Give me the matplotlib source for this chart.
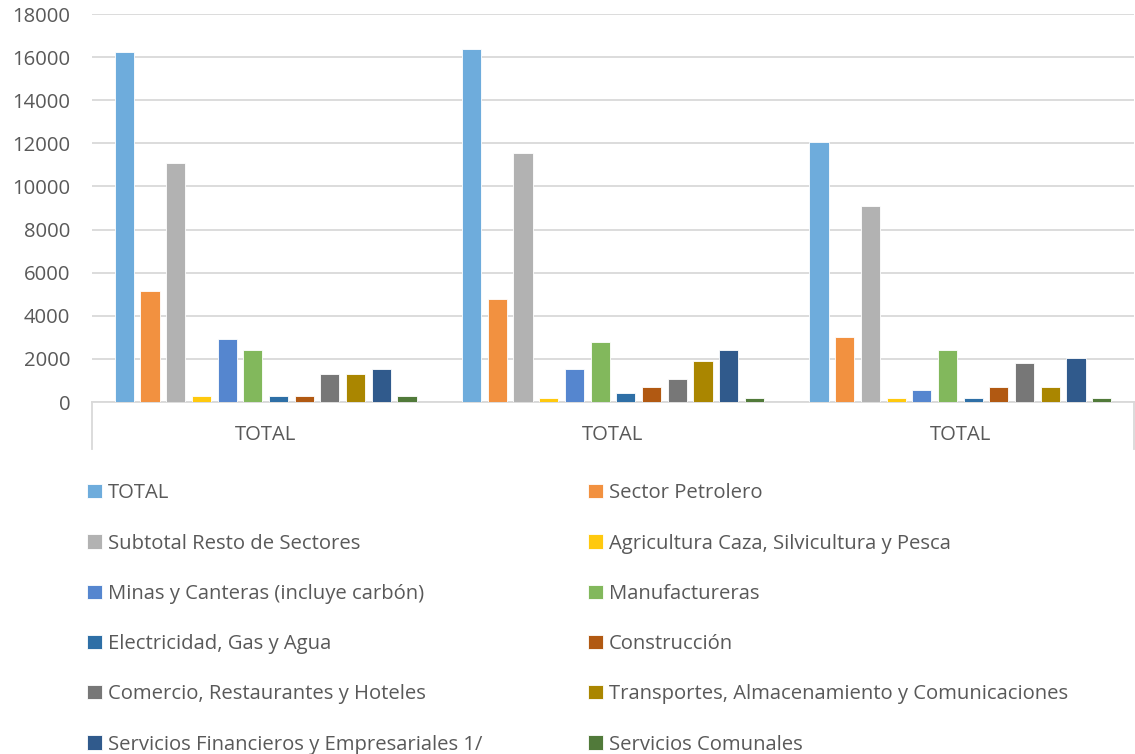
import matplotlib
matplotlib.use("Agg")
import matplotlib.pyplot as plt
import numpy as np

categories = ["TOTAL", "TOTAL", "TOTAL"]

series_names = [
    "TOTAL",
    "Sector Petrolero",
    "Subtotal Resto de Sectores",
    "Agricultura Caza, Silvicultura y Pesca",
    "Minas y Canteras (incluye carbón)",
    "Manufactureras",
    "Electricidad, Gas y Agua",
    "Construcción",
    "Comercio, Restaurantes y Hoteles",
    "Transportes, Almacenamiento y Comunicaciones",
    "Servicios Financieros y Empresariales 1/",
    "Servicios Comunales",
]

# one list per category group, in series order
group1 = [16250, 5150, 11070, 300, 2900, 2420, 300, 300, 1300, 1300, 1550, 300]
group2 = [16390, 4760, 11560, 190, 1550, 2780, 440, 690, 1050, 1920, 2420, 190]
group3 = [12050, 3030, 9090, 190, 570, 2420, 190, 690, 1790, 690, 2050, 190]

colors = [
    "#6eacdc", "#f29140", "#b2b2b2", "#ffc90e", "#5586cf", "#82b85c",
    "#2e6fa6", "#b15912", "#777777", "#aa8600", "#305a8c", "#517a3a",
]

yticks = [0, 2000, 4000, 6000, 8000, 10000, 12000, 14000, 16000, 18000]

W, H = 1135, 754
fig = plt.figure(figsize=(W / 100, H / 100), dpi=100)
plt.rcParams["font.family"] = ["Open Sans", "DejaVu Sans"]
FS = 14.6
TXT = "#595959"

ax = fig.add_axes([92 / W, 1 - 402 / H, (1134 - 92) / W, (402 - 14) / H])

values = np.array([group1, group2, group3])
n = len(series_names)
slot = 0.074
width = 0.055
x = np.arange(len(categories))
handles = []
for i in range(n):
    offs = (i - (n - 1) / 2) * slot
    b = ax.bar(x + offs, values[:, i], width=width, color=colors[i],
               edgecolor="white", linewidth=0.6, label=series_names[i], zorder=3)
    handles.append(b)

ax.set_xlim(-0.5, 2.5)
ax.set_ylim(0, 18000)
ax.set_yticks(yticks)
ax.set_yticklabels([str(t) for t in yticks])
ax.grid(axis="y", color="#d9d9d9", linewidth=1.3, zorder=0)
ax.set_axisbelow(True)
for s in ["left", "right", "top"]:
    ax.spines[s].set_visible(False)
ax.spines["bottom"].set_color("#d9d9d9")
ax.spines["bottom"].set_linewidth(1.3)
ax.tick_params(axis="y", length=0, pad=15.5, labelsize=FS, labelcolor=TXT)
ax.tick_params(axis="x", length=0, pad=0)
ax.set_xticks([])

# category labels and outer separators below the axis
for xi, lab in zip(x, categories):
    ax.text(xi, -1550, lab, ha="center", va="center", fontsize=FS,
            color=TXT, transform=ax.transData, clip_on=False)
for xs in (-0.5, 2.5):
    ax.plot([xs, xs], [0, -2200], color="#d9d9d9", linewidth=1.3,
            clip_on=False, zorder=2)

# legend: two columns, filled row by row
legend_kw = dict(loc="center left", frameon=False, fontsize=FS, labelcolor=TXT,
                 handlelength=0.72, handleheight=0.7, handletextpad=0.3,
                 labelspacing=1.49, borderpad=0, borderaxespad=0)
left_idx = [0, 2, 4, 6, 8, 10]
right_idx = [1, 3, 5, 7, 9, 11]
fig.legend([handles[i] for i in left_idx], [series_names[i] for i in left_idx],
           bbox_to_anchor=(87 / W, 1 - 619 / H), **legend_kw)
fig.legend([handles[i] for i in right_idx], [series_names[i] for i in right_idx],
           bbox_to_anchor=(588 / W, 1 - 619 / H), **legend_kw)

fig.savefig("out.png", dpi=100, facecolor="white")
